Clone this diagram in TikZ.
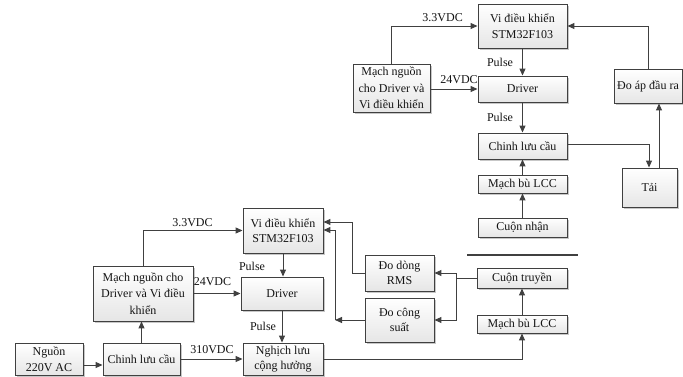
\documentclass[tikz,border=0pt]{standalone}
\usepackage{fontspec}
\setmainfont{Liberation Serif}
\usetikzlibrary{arrows.meta,shadows,calc}
\definecolor{linec}{HTML}{404040}
\definecolor{boxb}{HTML}{E6E6E6}
\definecolor{txtc}{HTML}{141414}
\begin{document}
\begin{tikzpicture}[x=1pt,y=-1pt,
  blk/.style={draw=linec, line width=0.9pt, top color=white, bottom color=boxb,
    drop shadow={shadow xshift=1.5pt,shadow yshift=-1.5pt,fill=black,opacity=0.22},
    inner sep=1pt, align=center, font=\fontsize{12}{15.5}\selectfont, text=txtc},
  conn/.style={draw=linec, line width=1pt},
  arr/.style={conn, -{Triangle[length=7pt,width=6pt]}},
  lbl/.style={font=\fontsize{12}{14}\selectfont, text=txtc, inner sep=0pt}]
\useasboundingbox (0,0) rectangle (683,376);
% ---------- top section ----------
\node[blk, minimum width=89pt, minimum height=44pt] (stm1) at (522.5,26) {Vi điều khiển\\STM32F103};
\node[blk, minimum width=77pt, minimum height=48pt, font=\fontsize{12}{16.5}\selectfont] (mn1) at (391.5,88) {Mạch nguồn\\cho Driver và\\Vi điều khiển};
\node[blk, minimum width=89pt, minimum height=26pt] (drv1) at (522.5,89) {Driver};
\node[blk, minimum width=68pt, minimum height=34pt] (doap) at (648,86) {Đo áp đầu ra};
\node[blk, minimum width=89pt, minimum height=26pt] (cl1) at (522.5,146) {Chinh lưu cầu};
\node[blk, minimum width=89pt, minimum height=18pt] (lcc1) at (522.5,184) {Mạch bù LCC};
\node[blk, minimum width=89pt, minimum height=19pt] (cn) at (522.5,227.5) {Cuộn nhận};
\node[blk, minimum width=55pt, minimum height=39pt] (tai) at (649.5,187.5) {Tải};

\draw[arr] (mn1.north) |- (stm1.west);
\draw[arr] (mn1.east |- drv1.west) -- (drv1.west);
\draw[arr] (stm1.south) -- (drv1.north);
\draw[arr] (drv1.south) -- (cl1.north);
\draw[arr] (lcc1.north) -- (cl1.south);
\draw[arr] (cn.north) -- (lcc1.south);
\coordinate (c1) at ([yshift=2pt]cl1.east);
\coordinate (t0) at ([xshift=-0.5pt]tai.north);
\draw[arr] (c1) -| (t0);
\coordinate (t1) at ([xshift=9.5pt]tai.north);
\draw[arr] (t1) -- (t1 |- doap.south);
\draw[arr] (doap.north) |- (stm1.east);

\node[lbl] (l1) at (442.6,18) {3.3VDC};
\node[lbl] (l2) at (459,80) {24VDC};
\node[lbl] (l3) at (500,62) {Pulse};
\node[lbl] (l4) at (500,117) {Pulse};

\draw[linec, line width=2pt] (467,255) -- (578,255);

% ---------- bottom section ----------
\node[blk, minimum width=80pt, minimum height=45pt] (stm2) at (283,230.5) {Vi điều khiển\\STM32F103};
\node[blk, minimum width=100pt, minimum height=55pt, font=\fontsize{12}{16.5}\selectfont] (mn2) at (143,293.5) {Mạch nguồn cho\\Driver và Vi điều\\khiển};
\node[blk, minimum width=82pt, minimum height=33pt] (drv2) at (282,293.5) {Driver};
\node[blk, minimum width=68pt, minimum height=32pt] (ng) at (49,359) {Nguồn\\220V AC};
\node[blk, minimum width=77pt, minimum height=32pt] (cl2) at (141.5,359) {Chinh lưu cầu};
\node[blk, minimum width=80pt, minimum height=32pt] (nl) at (283,359) {Nghịch lưu\\cộng hưởng};
\node[blk, minimum width=69pt, minimum height=36pt] (dd) at (399.5,273) {Đo dòng\\RMS};
\node[blk, minimum width=69pt, minimum height=44pt] (dcs) at (399.5,320) {Đo công\\suất};
\node[blk, minimum width=90pt, minimum height=20pt] (ct) at (522,278) {Cuộn truyền};
\node[blk, minimum width=90pt, minimum height=18pt] (lcc2) at (522,324) {Mạch bù LCC};

\draw[arr] (mn2.north) |- (stm2.west);
\draw[arr] (mn2.east) -- (drv2.west);
\draw[arr] (stm2.south) -- (stm2.south |- drv2.north);
\draw[arr] (drv2.south) -- (drv2.south |- nl.north);
\draw[arr] (cl2.north) -- (cl2.north |- mn2.south);
\coordinate (n1) at ([yshift=-6pt]ng.east);
\draw[arr] (n1) -- (n1 -| cl2.west);
\draw[arr] (cl2.east) -- (nl.west);
\draw[arr] (nl.east) -| (lcc2.south);
\draw[arr] (lcc2.north) -- (ct.south);
\coordinate (jx) at (456,0);
\draw[conn] (ct.west) -- (ct.west -| jx);
\draw[arr] (jx |- ct.west) |- (dd.east);
\draw[arr] (jx |- ct.west) |- (dcs.east);
\coordinate (kx) at (352,0);
\coordinate (mx) at (335,0);
\coordinate (s1) at ([yshift=8.5pt]stm2.east);
\coordinate (s2) at ([yshift=0.5pt]stm2.east);
\draw[arr] (dd.west) -| (kx |- s1) -- (s1);
\draw[arr] (dcs.west) -- (mx |- dcs.west);
\draw[arr] (mx |- dcs.west) -- (mx |- s2) -- (s2);

\node[lbl] (l5) at (192.5,223) {3.3VDC};
\node[lbl] (l6) at (212.5,282) {24VDC};
\node[lbl] (l7) at (252,266) {Pulse};
\node[lbl] (l8) at (263,326) {Pulse};
\node[lbl] (l9) at (212,350) {310VDC};
\end{tikzpicture}
\end{document}
